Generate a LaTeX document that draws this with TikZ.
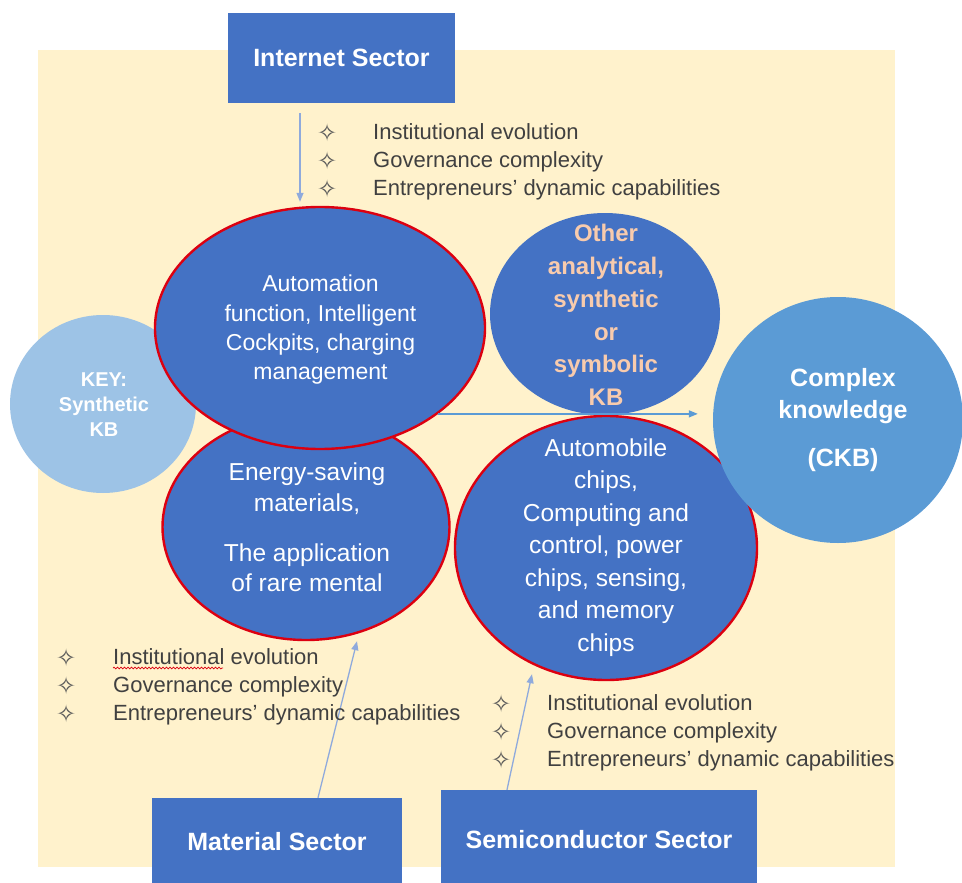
\documentclass[tikz,border=0pt]{standalone}
\usepackage{fontspec}
\setmainfont{Liberation Sans}
\newfontfamily\symfont{DejaVu Sans}
\usetikzlibrary{shapes.geometric,arrows.meta,decorations.pathmorphing}
\definecolor{boxblue}{HTML}{4472C4}
\definecolor{redline}{HTML}{DC0010}
\definecolor{keyblue}{HTML}{9DC3E6}
\definecolor{ckbblue}{HTML}{5B9BD5}
\definecolor{peach}{HTML}{F8CBAD}
\definecolor{cream}{HTML}{FFF2CC}
\definecolor{arrowblue}{HTML}{8FAADC}
\definecolor{arrowblue2}{HTML}{5B9BD5}
\definecolor{bulgray}{HTML}{404040}
\definecolor{dmdgray}{HTML}{595959}
\newcommand\dmd[1]{\makebox[#1][l]{{\color{dmdgray}\symfont\fontsize{24}{24}\selectfont\raisebox{-2pt}{\symbol{"2727}}}}}
\begin{document}
\begin{tikzpicture}[x=1pt,y=-1pt,
  sector/.style={rectangle, fill=boxblue, text=white, font=\bfseries\fontsize{25}{30}\selectfont, inner sep=0pt},
  blob/.style={ellipse, fill=boxblue, draw=redline, line width=2.4pt, inner sep=0pt},
  plainblob/.style={ellipse, inner sep=0pt},
  txt/.style={text=white, align=center, inner sep=0pt},
  bul/.style={text=bulgray, align=left, anchor=west, inner sep=0pt, font=\fontsize{22}{28.3}\selectfont},
  arr/.style={draw=arrowblue, line width=1.3pt, -{Triangle[length=9pt,width=7pt]}},
  harr/.style={draw=arrowblue2, line width=1.4pt, -{Triangle[length=9pt,width=7pt]}}]
\useasboundingbox (0,0) rectangle (962,883);
\fill[white] (0,0) rectangle (962,883);
\fill[cream] (38,50) rectangle (895,867);

\node[sector, minimum width=227pt, minimum height=90pt] (inet) at (341.5,58) {Internet Sector};

\node[plainblob, fill=keyblue, minimum width=186pt, minimum height=178pt] (key) at (103,404) {};
\node[blob, minimum width=287pt, minimum height=226pt] (energy) at (306,527) {};
\node[blob, minimum width=330pt, minimum height=242pt] (auto) at (320,328) {};
\node[blob, minimum width=302pt, minimum height=264pt] (chips) at (606,548) {};
\node[plainblob, fill=boxblue, minimum width=230pt, minimum height=202pt] (other) at (605,314) {};
\node[plainblob, fill=ckbblue, minimum width=250pt, minimum height=246pt] (ckb) at (838,420) {};

\node[txt, font=\bfseries\fontsize{20}{25}\selectfont] (keyt) at (104,405) {KEY:\\Synthetic\\KB};
\node[txt, font=\fontsize{23}{29.3}\selectfont] (autot) at (320.5,330) {Automation\\function, Intelligent\\Cockpits, charging\\management};
\node[txt, font=\fontsize{24.5}{30.5}\selectfont] (energyt) at (307,527.5) {Energy-saving\\materials,\\[19.5pt]The application\\of rare mental};
\node[txt, text=peach, font=\bfseries\fontsize{24}{32.8}\selectfont] (othert) at (606,315) {Other\\analytical,\\synthetic\\or\\symbolic\\KB};
\node[txt, font=\fontsize{24.5}{32.5}\selectfont] (chipst) at (606,547.5) {Automobile\\chips,\\Computing and\\control, power\\chips, sensing,\\and memory\\chips};
\node[txt, font=\bfseries\fontsize{25}{32}\selectfont] (ckbt) at (843,420) {Complex\\knowledge\\[16pt](CKB)};

\node[sector, minimum width=250pt, minimum height=88pt] (mat) at (277,842) {Material Sector};
\node[sector, minimum width=316pt, minimum height=100pt] (semi) at (599,840) {Semiconductor Sector};

\draw[arr] ([xshift=-41.5pt,yshift=-10pt]inet.south) -- ([xshift=-20pt,yshift=4pt]auto.north);
\draw[harr, shorten >=15pt] (auto.-36) -- (auto.-36 -| ckb.west);
\draw[arr] ([xshift=41pt]mat.north) -- ([xshift=51pt]energy.south);
\draw[arr] ([xshift=-92pt]semi.north) -- ([xshift=-74pt,yshift=7pt]chips.south);

\node[bul] (ibul) at (317,162) {\dmd{56pt}Institutional evolution\\\dmd{56pt}Governance complexity\\\dmd{56pt}Entrepreneurs’ dynamic capabilities};
\node[bul] (mbul) at (56,687) {\dmd{57pt}Institutional evolution\\\dmd{57pt}Governance complexity\\\dmd{57pt}Entrepreneurs’ dynamic capabilities};
\node[bul] (sbul) at (491,733) {\dmd{56pt}Institutional evolution\\\dmd{56pt}Governance complexity\\\dmd{56pt}Entrepreneurs’ dynamic capabilities};
\draw[redline, line width=0.7pt, decorate, decoration={snake, amplitude=0.9pt, segment length=3.5pt}] (113,668) -- (223,668);
\end{tikzpicture}
\end{document}
